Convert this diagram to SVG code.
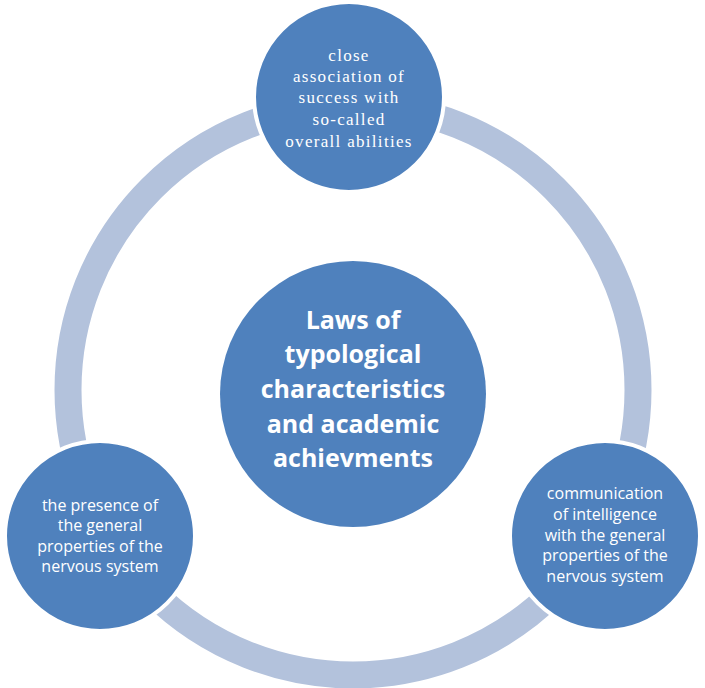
<svg xmlns="http://www.w3.org/2000/svg" width="705" height="688" viewBox="0 0 705 688">
<style>
.node{fill:#4F81BD;stroke:#FFFFFF;stroke-width:4}
.ring{fill:none;stroke:#B3C2DC;stroke-width:27}
.serif{font-family:"Liberation Serif","Times New Roman",serif;font-size:17px;letter-spacing:1.3px;fill:#FFFFFF;text-anchor:middle}
.sans{font-family:"Open Sans","DejaVu Sans",sans-serif;font-size:16px;fill:#FFFFFF;text-anchor:middle}
.bold{font-family:"Open Sans","DejaVu Sans",sans-serif;font-size:25px;font-weight:bold;fill:#FFFFFF;text-anchor:middle}
</style>
<rect width="705" height="688" fill="#FFFFFF"/>
<g id="connectors">
<circle class="ring" cx="353" cy="390" r="285"/>
</g>
<g id="center">
<circle cx="353" cy="394" r="133" fill="#4F81BD"/>
<text class="bold" x="353" y="329">Laws of</text>
<text class="bold" x="353" y="363">typological</text>
<text class="bold" x="353" y="398">characteristics</text>
<text class="bold" x="353" y="433">and academic</text>
<text class="bold" x="353" y="467">achievments</text>
</g>
<g id="top">
<circle class="node" cx="349" cy="97" r="95"/>
<text class="serif" x="349" y="61">close</text>
<text class="serif" x="349" y="82">association of</text>
<text class="serif" x="349" y="103">success with</text>
<text class="serif" x="349" y="125">so-called</text>
<text class="serif" x="349" y="147">overall abilities</text>
</g>
<g id="left">
<circle class="node" cx="100" cy="536" r="95"/>
<text class="sans" x="100" y="511">the presence of</text>
<text class="sans" x="100" y="531">the general</text>
<text class="sans" x="100" y="552">properties of the</text>
<text class="sans" x="100" y="572">nervous system</text>
</g>
<g id="right">
<circle class="node" cx="605" cy="536" r="95"/>
<text class="sans" x="605" y="499">communication</text>
<text class="sans" x="605" y="520">of intelligence</text>
<text class="sans" x="605" y="541">with the general</text>
<text class="sans" x="605" y="561">properties of the</text>
<text class="sans" x="605" y="582">nervous system</text>
</g>
</svg>
